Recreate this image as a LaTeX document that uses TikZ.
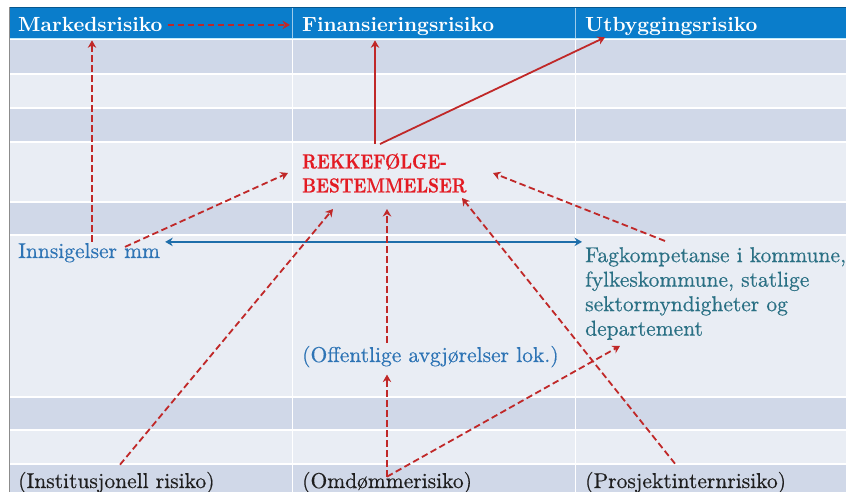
\documentclass[tikz,border=0pt]{standalone}
\usepackage{fontspec}
\setmainfont{lmroman10}[Extension=.otf, UprightFont=*-regular, BoldFont=*-bold]
\newfontfamily\bodyfont{lmroman10}[Extension=.otf, UprightFont=*-regular, FakeBold=0.5]
\newfontfamily\rekbold{lmroman10}[Extension=.otf, UprightFont=*-bold, FakeBold=0.5]
\usetikzlibrary{arrows.meta,calc}
\definecolor{hdr}{RGB}{10,125,203}
\definecolor{rowd}{RGB}{208,216,232}
\definecolor{rowl}{RGB}{233,237,244}
\definecolor{arr}{RGB}{192,40,40}
\definecolor{rektext}{RGB}{227,27,35}
\definecolor{bluetext}{RGB}{46,116,181}
\definecolor{tealtext}{RGB}{42,112,132}
\definecolor{bluearr}{RGB}{30,110,170}
\definecolor{blacktext}{RGB}{30,30,30}
\tikzset{
  hfont/.style={font=\fontsize{20.5}{24}\selectfont\bfseries, text=white, inner sep=0pt, anchor=base west},
  rekfont/.style={font=\rekbold\fontsize{20.5}{24}\selectfont, text=rektext, inner sep=0pt, align=left, anchor=north west},
  btxt/.style={font=\bodyfont\fontsize{21.5}{24.5}\selectfont, text=bluetext, inner sep=0pt, anchor=base west},
  ttxt/.style={font=\bodyfont\fontsize{21.5}{24.5}\selectfont, text=tealtext, inner sep=0pt, align=left, anchor=north west},
  ktxt/.style={font=\bodyfont\fontsize{21.5}{24.5}\selectfont, text=blacktext, inner sep=0pt, anchor=base west},
  rdash/.style={draw=arr, line width=1.8pt, dash pattern=on 6.5pt off 3.5pt, -{Stealth[length=7.5pt,width=8.5pt]}},
  rsolid/.style={draw=arr, line width=1.8pt, -{Stealth[length=7.5pt,width=8.5pt]}},
  bsolid/.style={draw=bluearr, line width=1.8pt, {Stealth[length=7.5pt,width=8.5pt]}-{Stealth[length=7.5pt,width=8.5pt]}},
}
\begin{document}
\begin{tikzpicture}[x=1pt,y=-1pt]
\useasboundingbox (0,0) rectangle (846,492);
\clip (0,0) rectangle (846,492);
\fill[white] (0,0) rectangle (846,492);
% table rows
\fill[hdr] (9,7) rectangle (846,38);
\fill[hdr!70!black] (9,7) rectangle (846,8);
\fill[cyan!25] (9,38) rectangle (846,39.5);
\fill[rowd] (9,40) rectangle (846,73);
\fill[rowl] (9,75) rectangle (846,107);
\fill[rowd] (9,109) rectangle (846,141);
\fill[rowl] (9,143) rectangle (846,201);
\fill[rowd] (9,203) rectangle (846,234);
\fill[rowl] (9,236) rectangle (846,396);
\fill[rowd] (9,398) rectangle (846,429);
\fill[rowl] (9,431) rectangle (846,463);
\fill[rowd] (9,465) rectangle (846,495);
\fill[white] (291.5,39.5) rectangle (293,495);
\fill[white] (574.5,39.5) rectangle (576,495);
\fill[white!60!hdr] (291.5,8) rectangle (293,38);
\fill[white!60!hdr] (574.5,8) rectangle (576,38);
\fill[black!45] (8.5,7) rectangle (9.5,495);
% texts
\node[hfont] (mark) at (18,32) {Markedsrisiko};
\node[hfont] (fin) at (302,32) {Finansieringsrisiko};
\node[hfont] (utb) at (585,32) {Utbyggingsrisiko};
\node[rekfont] (rek) at (302,153) {\scalebox{0.83}[1]{REKKEFØLGE-}\\\scalebox{0.83}[1]{BESTEMMELSER}};
\node[btxt] (inns) at (18,258) {Innsigelser mm};
\node[ttxt] (fag) at (585,247) {Fagkompetanse i kommune,\\fylkeskommune, statlige\\sektormyndigheter og\\departement};
\node[btxt] (off) at (302,362) {(Offentlige avgjørelser lok.)};
\node[ktxt] (inst) at (18,488) {(Institusjonell risiko)};
\node[ktxt] (omd) at (302,488) {(Omdømmerisiko)};
\node[ktxt] (pros) at (585,488) {(Prosjektinternrisiko)};
% connectors
\draw[rdash] ($(mark.east)+(5,0)$) -- ($(mark.east -| fin.west)+(-12,0)$);
\draw[rdash] ($(inns.north west)+(74,-1)$) -- ($(inns.north west |- mark.south)+(74,8)$);
\draw[rdash] ($(inns.north west)+(107,4)$) -- ($(rek.north west)+(-14,20)$);
\draw[bsolid] ($(inns.north east)+(5,-1)$) -- ($(inns.north east -| fag.west)+(-3,-1)$);
\draw[rsolid] ($(rek.north west)+(73,-9)$) -- ($(rek.north west |- fin.south)+(73,4)$);
\draw[rsolid] ($(rek.north west)+(78,-9)$) -- ($(utb.south west)+(20,1)$);
\draw[rdash] ($(inst.north west)+(102,-7)$) -- ($(rek.north west)+(31,56)$);
\draw[rdash] ($(off.north west)+(85,-3)$) -- ($(rek.north west)+(85,56)$);
\draw[rdash] ($(omd.north west)+(85,5)$) -- ($(off.south west)+(85,7)$);
\draw[rdash] ($(omd.north west)+(85,5)$) -- ($(fag.south west)+(35,6)$);
\draw[rdash] ($(pros.north west)+(90,-8)$) -- ($(rek.north west)+(160,45)$);
\draw[rdash] ($(fag.north west)+(80,-6)$) -- ($(rek.north west)+(191,20)$);
\end{tikzpicture}
\end{document}
